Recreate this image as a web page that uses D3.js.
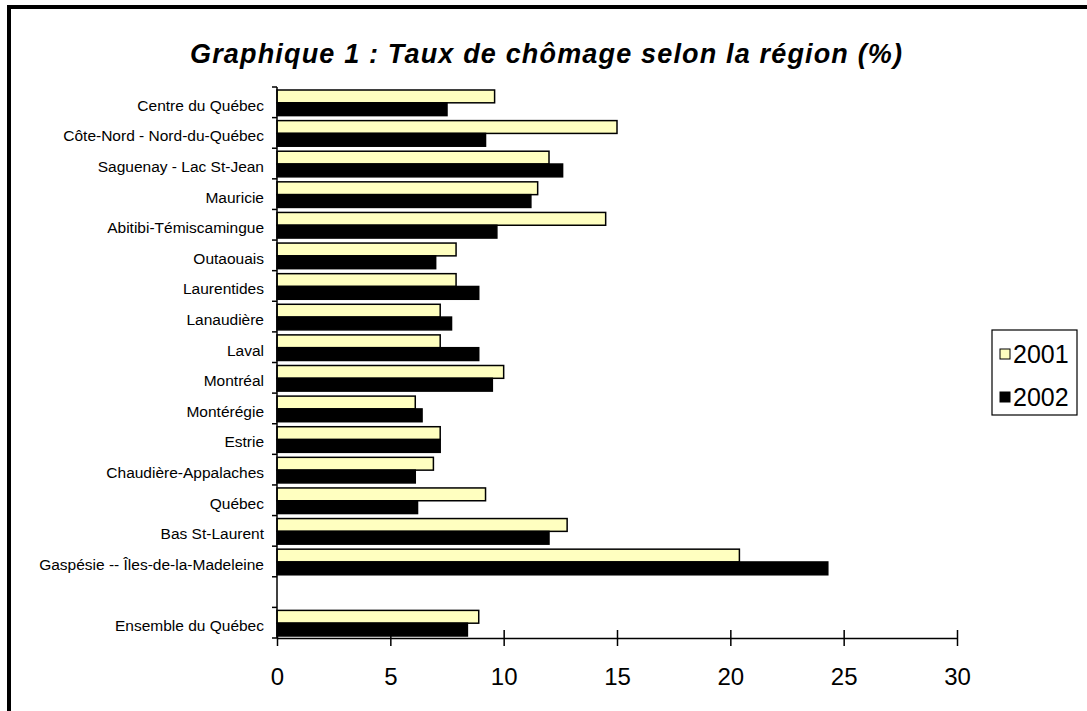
<!DOCTYPE html>
<html>
<head>
<meta charset="utf-8">
<script src="https://cdn.jsdelivr.net/npm/d3@7"></script>
<style>
  body { margin: 0; background: #fff; }
  svg { display: block; font-family: Arial, "Liberation Sans", sans-serif; }
</style>
</head>
<body>
<svg id="chart" width="1087" height="711"></svg>
<script>
// taux de chômage par région, 2001 et 2002
const regions = [
  'Centre du Québec', 'Côte-Nord - Nord-du-Québec', 'Saguenay - Lac St-Jean', 'Mauricie ',
  'Abitibi-Témiscamingue', 'Outaouais', 'Laurentides', 'Lanaudière', 'Laval', 'Montréal ',
  'Montérégie', 'Estrie', 'Chaudière-Appalaches', 'Québec', 'Bas St-Laurent',
  'Gaspésie -- Îles-de-la-Madeleine', '', 'Ensemble du Québec'
];
const taux2001 = [9.6, 15.0, 12.0, 11.5, 14.5, 7.9, 7.9, 7.2, 7.2, 10.0, 6.1, 7.2, 6.9, 9.2, 12.8, 20.4, null, 8.9];
const taux2002 = [7.5, 9.2, 12.6, 11.2, 9.7, 7.0, 8.9, 7.7, 8.9, 9.5, 6.4, 7.2, 6.1, 6.2, 12.0, 24.3, null, 8.4];
const annees = ['2001', '2002'];
const xTicks = [0, 5, 10, 15, 20, 25, 30];

const couleurs = { '2001': '#ffffc0', '2002': '#000000' };

const svg = d3.select('#chart');

// cadre
svg.append('rect')
  .attr('x', 9).attr('y', 7)
  .attr('width', 1200).attr('height', 800)
  .attr('fill', 'none').attr('stroke', '#000').attr('stroke-width', 4);

svg.append('text')
  .attr('x', 546).attr('y', 63)
  .attr('text-anchor', 'middle')
  .attr('font-size', 27).attr('font-weight', 'bold').attr('font-style', 'italic')
  .attr('textLength', 712).attr('lengthAdjust', 'spacing')
  .text('Graphique 1 : Taux de chômage selon la région (%)');

const x = d3.scaleLinear().domain([0, 30]).range([277, 957]);
const y = d3.scaleBand().domain(d3.range(regions.length)).range([87, 638]).paddingInner(0).paddingOuter(0);
const sub = d3.scaleBand().domain(annees).range([3, y.bandwidth() - 2]);

const rows = regions.map((r, i) => ({ i, r, v: { '2001': taux2001[i], '2002': taux2002[i] } }));

const g = svg.append('g');
rows.filter(d => d.v['2001'] != null).forEach(d => {
  annees.forEach(a => {
    g.append('rect')
      .attr('x', x(0))
      .attr('y', y(d.i) + sub(a))
      .attr('width', x(d.v[a]) - x(0))
      .attr('height', sub.bandwidth())
      .attr('fill', couleurs[a])
      .attr('stroke', '#000').attr('stroke-width', 1.5);
  });
});

// axe des catégories
const ya = svg.append('g');
ya.append('line')
  .attr('x1', x(0)).attr('x2', x(0))
  .attr('y1', 87).attr('y2', 638)
  .attr('stroke', '#000').attr('stroke-width', 1.5);
d3.range(regions.length + 1).forEach(k => {
  const yy = 87 + k * y.step();
  ya.append('line')
    .attr('x1', x(0) - 5).attr('x2', x(0))
    .attr('y1', yy).attr('y2', yy)
    .attr('stroke', '#000').attr('stroke-width', 1.5);
});
ya.selectAll('text.cat').data(rows).join('text')
  .attr('class', 'cat')
  .attr('x', 264)
  .attr('y', d => y(d.i) + y.bandwidth() / 2 + 3)
  .attr('dy', '0.35em')
  .attr('text-anchor', 'end')
  .attr('font-size', 15.5)
  .text(d => d.r);

// axe des valeurs
const xa = svg.append('g')
  .attr('transform', 'translate(0,638)')
  .call(d3.axisBottom(x).tickValues(xTicks).tickSizeInner(8).tickSizeOuter(0).tickPadding(22));
xa.select('.domain').attr('stroke-width', 1.5);
xa.selectAll('.tick line').attr('y1', -8).attr('y2', 8).attr('stroke-width', 1.5);
xa.selectAll('.tick text').attr('font-size', 24).attr('font-family', 'Arial, "Liberation Sans", sans-serif').attr('fill', '#000');

// légende
const lg = svg.append('g');
lg.append('rect')
  .attr('x', 992).attr('y', 330).attr('width', 85).attr('height', 85)
  .attr('fill', '#fff').attr('stroke', '#000').attr('stroke-width', 1.2);
annees.forEach((a, k) => {
  const cy = 354 + k * 43;
  lg.append('rect')
    .attr('x', 1000).attr('y', cy - 5).attr('width', 10).attr('height', 10)
    .attr('fill', couleurs[a]).attr('stroke', '#000').attr('stroke-width', 1);
  lg.append('text')
    .attr('x', 1013).attr('y', cy).attr('dy', '0.35em')
    .attr('font-size', 25)
    .text(a);
});
</script>
</body>
</html>
